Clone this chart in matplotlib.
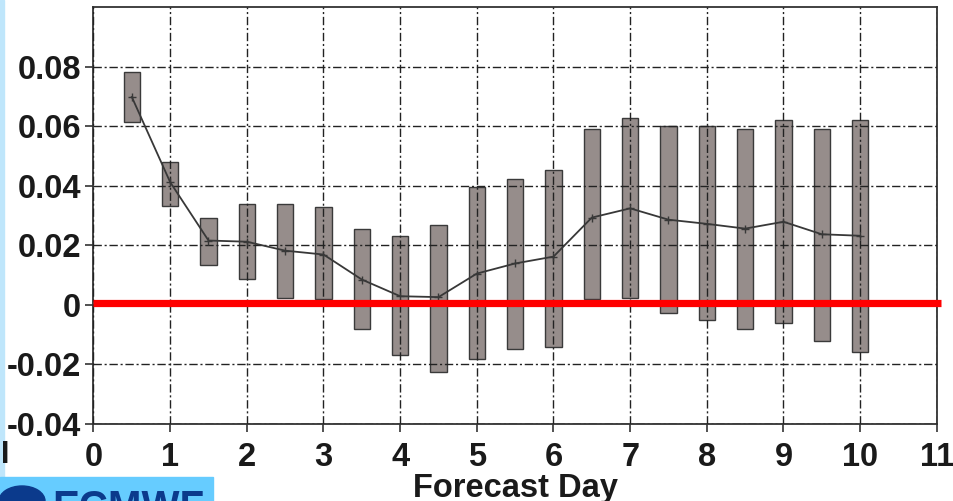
import matplotlib
matplotlib.use('Agg')
import matplotlib.pyplot as plt
from matplotlib.patches import Rectangle, Ellipse

plt.rcParams['font.family'] = ['Liberation Sans', 'DejaVu Sans']

# forecast day, spread box (low / high) and mean line
days = [0.5, 1, 1.5, 2, 2.5, 3, 3.5, 4, 4.5, 5, 5.5, 6, 6.5, 7, 7.5, 8, 8.5, 9, 9.5, 10]
box_hi = [0.0783, 0.0481, 0.0292, 0.0340, 0.0339, 0.0328, 0.0255, 0.0232, 0.0268, 0.0397,
          0.0424, 0.0454, 0.0591, 0.0628, 0.0600, 0.0600, 0.0591, 0.0621, 0.0591, 0.0621]
box_lo = [0.0614, 0.0332, 0.0134, 0.0087, 0.0023, 0.0018, -0.0081, -0.0169, -0.0224, -0.0183,
          -0.0147, -0.0140, 0.0018, 0.0024, -0.0027, -0.0051, -0.0081, -0.0062, -0.0122, -0.0158]
mean_val = [0.0698, 0.0412, 0.0216, 0.0212, 0.0182, 0.0169, 0.0085, 0.0029, 0.0026, 0.0105,
            0.0139, 0.0162, 0.0293, 0.0324, 0.0286, 0.0272, 0.0256, 0.0279, 0.0237, 0.0232]

xticks = list(range(0, 12))
yticks = [-0.04, -0.02, 0, 0.02, 0.04, 0.06, 0.08]
ylabels = ['-0.04', '-0.02', '0', '0.02', '0.04', '0.06', '0.08']

fig = plt.figure(figsize=(9.54, 5.01), dpi=100)
ax = fig.add_axes([0.098, 0.1537, 0.884, 0.8323])

heights = [h - l for h, l in zip(box_hi, box_lo)]
ax.bar(days, heights, bottom=box_lo, width=0.21, color='#968d8b',
       edgecolor='#3a3a3a', linewidth=1.0, zorder=2)

ax.plot(days, mean_val, '-', color='#383838', lw=1.3, marker='+', ms=6, mew=1.0, zorder=4)

ax.plot([0, 11.05], [0.0007, 0.0007], color='#ff0000', lw=5.2, solid_capstyle='butt',
        clip_on=False, zorder=5)

ax.set_xlim(0, 11)
ax.set_ylim(-0.04, 0.1)
ax.set_xticks(xticks)
ax.set_xticklabels([str(t) for t in xticks])
ax.set_yticks(yticks)
ax.set_yticklabels(ylabels)
ax.grid(True, color='#222222', linestyle=(0, (6, 2, 1.5, 2)), linewidth=1.0, zorder=3)
ax.set_axisbelow(False)
for s in ax.spines.values():
    s.set_color('#333333')
    s.set_linewidth(1.3)
ax.tick_params(axis='both', direction='out', length=6, width=1.2, color='#333333',
               labelsize=23.5, labelcolor='#1a1a1a', pad=3)
for lab in ax.get_xticklabels() + ax.get_yticklabels():
    lab.set_fontweight('bold')
ax.tick_params(axis='x', pad=7)

ax.set_xlabel('Forecast Day', fontsize=23.5, fontweight='bold', color='#1a1a1a', labelpad=0)

# cut-off bits at the image edges: left strip, logo, stray label
fig.patches.append(Rectangle((0, 0), 0.004, 1, transform=fig.transFigure,
                             color='#bfe6fb', zorder=0))
fig.patches.append(Rectangle((0, 0), 213 / 954, 24 / 501, transform=fig.transFigure,
                             color='#66ccff', zorder=1))
fig.patches.append(Ellipse((22 / 954, 0), 46 / 954, 30 / 501, transform=fig.transFigure,
                           color='#0b3a8c', zorder=2))
fig.text(52 / 954, -0.036, 'ECMWF', fontsize=29, fontweight='bold', color='#0b3a8c',
         ha='left', va='baseline')
fig.text(0.001, 0.092, 'I', fontsize=22, fontweight='bold', color='#1a1a1a',
         ha='left', va='center')

fig.savefig('out.png', dpi=100)
